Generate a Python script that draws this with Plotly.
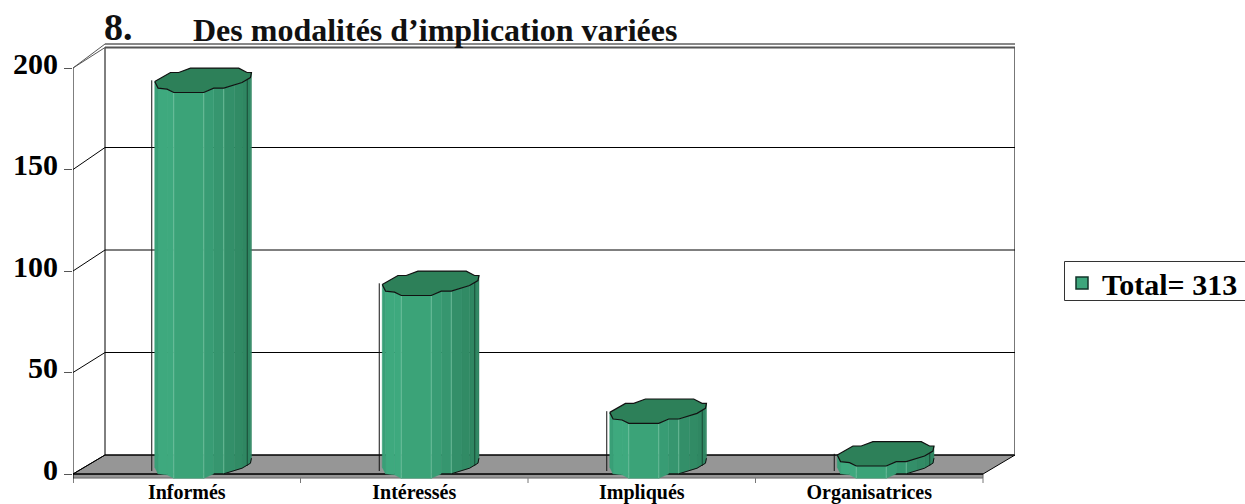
"""
Faux 3D cylinder chart: Des modalités d'implication variées.
"""

import plotly.graph_objects as go

categories = ["Informés", "Intéressés", "Impliqués", "Organisatrices"]
values = [190, 90, 27, 6]
y_ticks = [0, 50, 100, 150, 200]
series_name = "Total= 313"
title_number = "8."
title_text = "Des modalités d’implication variées"

# front plane in page pixels
LEFT, RIGHT, TOP, BOTTOM = 73, 1015, 43, 483
FRONT_X1, ZERO_Y, MAX_Y = 983, 474, 68
PX_X = (FRONT_X1 - LEFT) / len(categories)
PX_Y = (ZERO_Y - MAX_Y) / max(y_ticks)

# depth of the box, in axis units
DX = 32 / PX_X
DY = 19 / PX_Y
BACK_SCALE = 410 / 406

# cap outline, relative to the centre, in pixels
CAP_BACK = [(-48, 1.2), (-32.3, -7.8), (-24, -7.8), (-12.3, -12.2), (36, -12.2),
            (44.3, -7.8), (48.7, -7.8)]
CAP_FRONT = [(48.7, -7.8), (47.7, -2.8), (39.3, 2.2), (31.7, 4.5), (21, 7.8), (11, 7.8),
             (1, 12.2), (-29, 12.2), (-35.7, 8.8), (-44.7, 7.8), (-48, 1.2)]
FACET_COLORS = ["#2f8460", "#2f8762", "#318b65", "#338f69", "#36966f", "#389c74",
                "#3ba378", "#3ea97e", "#3ea97e", "#399f77"]
LIGHT_EDGES = {4, 6, 7}

GREEN = "#3da67c"
CAP = "#2d8059"
FLOOR = "#969696"

fig = go.Figure()


def px_x(dx):
    return dx / PX_X


def px_y(dy):
    return -dy / PX_Y


def add_poly(xs, ys, fill=None, color="black", width=1):
    fig.add_trace(go.Scatter(
        x=xs, y=ys, mode="lines",
        fill="toself" if fill else None,
        fillcolor=fill,
        line=dict(color=color, width=width),
        hoverinfo="skip", showlegend=False,
    ))


def add_box():
    n = len(categories)
    top = max(y_ticks)
    inner_top = px_y(47.5 - ZERO_Y)
    outer_top = px_y(44 - ZERO_Y)
    # floor, with its thin front edge
    add_poly([0, n, n, 0, 0], [0, 0, -2, -2, 0], fill=FLOOR, color="#666666")
    add_poly([0, DX, n + DX, n, 0], [0, DY, DY, 0, 0], fill=FLOOR)
    add_poly([0, n], [0, 0])
    # walls
    add_poly([0, 0], [px_y(9), top])
    add_poly([DX, DX], [DY, inner_top])
    add_poly([n + DX, n + DX], [DY, inner_top], color="#777777", width=2)
    add_poly([DX, n + DX], [inner_top] * 2, color="#555555", width=2)
    add_poly([DX, n + DX], [outer_top] * 2, color="#888888", width=2)
    add_poly([0, DX], [top, inner_top], color="#555555")
    add_poly([0, DX], [top, outer_top], color="#555555")
    for tick in y_ticks[:-1]:
        add_poly([0, DX, n + DX], [tick, DY + tick * BACK_SCALE, DY + tick * BACK_SCALE])
    # gray separators under the front edge
    for i in range(1, n + 1):
        add_poly([i, i], [-2, px_y(9)], color="#777777")


def add_cylinder(i, value):
    cx = i + 0.5 + px_x(16)
    base = px_y(-8)
    top_y = base + value

    def bx(p):
        return cx + px_x(p[0])

    def by(p, level):
        return level + px_y(p[1])

    # shaft, one strip per facet of the front outline
    for k, (p, q) in enumerate(zip(CAP_FRONT[:-1], CAP_FRONT[1:])):
        xs = [bx(p), bx(q), bx(q), bx(p), bx(p)]
        ys = [by(p, top_y), by(q, top_y), by(q, base), by(p, base), by(p, top_y)]
        add_poly(xs, ys, fill=FACET_COLORS[k], color=FACET_COLORS[k], width=0.5)
    for k in LIGHT_EDGES:
        p = CAP_FRONT[k]
        add_poly([bx(p), bx(p)], [by(p, top_y), by(p, base)], color="#7cc7a6", width=0.7)

    # dark edges of the shaft
    add_poly([bx((44.5, 0))] * 2, [by((0, -4), top_y), by((0, 0), base)], color="#1a4a36")
    add_poly([bx(p) for p in CAP_FRONT[:6]], [by(p, base) for p in CAP_FRONT[:6]], color="#111111")

    # thin line standing left of the shaft
    add_poly([cx + px_x(-51)] * 2, [top_y, base + px_y(5)], color="#111111")

    # cap
    outline = CAP_BACK + CAP_FRONT[1:]
    add_poly([bx(p) for p in outline], [by(p, top_y) for p in outline], fill=CAP, color="#111111", width=1.2)


add_box()
for i, value in enumerate(values):
    add_cylinder(i, value)

fig.add_trace(go.Scatter(
    x=[None], y=[None], mode="markers", name=series_name,
    marker=dict(symbol="square", size=12, color=GREEN, line=dict(color="#12352a", width=1.5)),
))

fig.update_layout(
    width=1245, height=504,
    margin=dict(l=LEFT, r=1245 - RIGHT, t=TOP, b=504 - BOTTOM, pad=0, autoexpand=False),
    paper_bgcolor="white", plot_bgcolor="white",
    font=dict(family="Liberation Serif", color="black"),
    title=dict(
        text=f"<b>{title_text}</b>", x=193 / 1245, xanchor="left",
        y=1 - 30 / 504, yanchor="middle",
        font=dict(family="Liberation Serif", size=32, color="#111111"),
    ),
    annotations=[dict(
        text=f"<b>{title_number}</b>", xref="paper", yref="paper",
        x=(102 - LEFT) / (RIGHT - LEFT), y=(BOTTOM - 27) / (BOTTOM - TOP),
        xanchor="left", yanchor="middle", showarrow=False,
        font=dict(family="Liberation Serif", size=38, color="#111111"),
    )],
    shapes=[dict(
        type="rect", xref="paper", yref="paper",
        x0=(1064.5 - LEFT) / (RIGHT - LEFT), x1=(1250 - LEFT) / (RIGHT - LEFT),
        y0=(BOTTOM - 261.5) / (BOTTOM - TOP), y1=(BOTTOM - 300.5) / (BOTTOM - TOP),
        line=dict(color="#333333", width=1), layer="below",
    )],
    showlegend=True,
    legend=dict(
        x=(1062 - LEFT) / (RIGHT - LEFT), y=(BOTTOM - 283) / (BOTTOM - TOP),
        xanchor="left", yanchor="middle",
        bgcolor="rgba(0,0,0,0)", borderwidth=0,
        font=dict(family="Liberation Serif", size=30, color="black", weight="bold"),
        itemsizing="trace", itemwidth=30,
        entrywidth=150, entrywidthmode="pixels",
    ),
)

fig.update_xaxes(
    range=[0, (RIGHT - LEFT) / PX_X],
    tickmode="array",
    tickvals=[i + 0.5 for i in range(len(categories))],
    ticktext=[f"<b>{c}</b>" for c in categories],
    ticks="", showgrid=False, zeroline=False, showline=False,
    ticklabelstandoff=-5,
    tickfont=dict(family="Liberation Serif", size=20, color="black"),
)
fig.update_yaxes(
    range=[px_y(BOTTOM - ZERO_Y), (ZERO_Y - TOP) / PX_Y],
    tickmode="array",
    tickvals=y_ticks,
    ticktext=[f"<b>{t}</b>" for t in y_ticks],
    ticks="outside", ticklen=8, tickcolor="#555555", tickwidth=1,
    showgrid=False, zeroline=False, showline=False,
    ticklabelstandoff=0, ticklabelshift=-5,
    tickfont=dict(family="Liberation Serif", size=30, color="black"),
)

fig.write_html("out.html", config={"displayModeBar": False},
               post_script="document.body.style.margin='0';")
